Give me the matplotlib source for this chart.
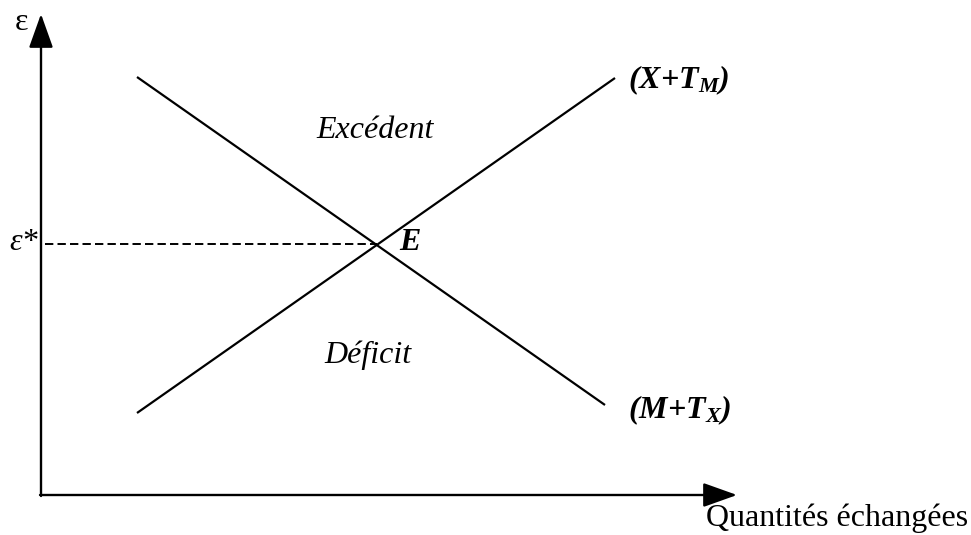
import matplotlib
matplotlib.use("Agg")
import matplotlib.pyplot as plt

plt.rcParams['lines.scale_dashes'] = False
plt.rcParams['font.family'] = ['Liberation Serif', 'DejaVu Serif']
plt.rcParams['mathtext.fontset'] = 'custom'
plt.rcParams['mathtext.it'] = 'Liberation Serif:italic:bold'
plt.rcParams['mathtext.rm'] = 'Liberation Serif'

# Curves (endpoints in diagram units)
supply_x = [137, 615]      # (X+T_M), increasing
supply_y = [413, 78]
demand_x = [137, 605]      # (M+T_X), decreasing
demand_y = [77, 405]
eq_x, eq_y = 377, 244      # equilibrium E
axis_origin = (41, 495)
axis_x_end = 737
axis_y_end = 14

fig = plt.figure(figsize=(9.71, 5.35), dpi=100)
ax = fig.add_axes([0, 0, 1, 1])
ax.set_xlim(0, 971)
ax.set_ylim(535, 0)
ax.axis('off')

arrow_kw = dict(arrowstyle='-|>,head_length=1.4,head_width=0.5', mutation_scale=15,
                lw=1.7, color='black', shrinkA=0, shrinkB=0)
ax.annotate('', xy=(axis_origin[0], axis_y_end), xytext=(axis_origin[0], axis_origin[1] + 1),
            arrowprops=arrow_kw)
ax.annotate('', xy=(axis_x_end, axis_origin[1]), xytext=(axis_origin[0] - 1, axis_origin[1]),
            arrowprops=arrow_kw)

ax.plot(supply_x, supply_y, color='black', lw=1.6, solid_capstyle='butt')
ax.plot(demand_x, demand_y, color='black', lw=1.6, solid_capstyle='butt')
ax.plot([axis_origin[0] + 4, eq_x], [eq_y, eq_y], color='black', lw=1.4, dashes=(6, 3))

fs = 23
ax.text(22, 22, 'ε', fontsize=fs, ha='center', va='center')
ax.text(38, 243, 'ε*', fontsize=fs, style='italic', ha='right', va='center')
ax.text(399, 242, 'E', fontsize=fs, style='italic', weight='bold', ha='left', va='center')
ax.text(375, 130, 'Excédent', fontsize=fs, style='italic', ha='center', va='center')
ax.text(368, 355, 'Déficit', fontsize=fs, style='italic', ha='center', va='center')
ax.text(628, 80, r'(X+T$_{\mathit{M}}$)', fontsize=fs, style='italic', weight='bold',
        ha='left', va='center')
ax.text(628, 410, r'(M+T$_{\mathit{X}}$)', fontsize=fs, style='italic', weight='bold',
        ha='left', va='center')
ax.text(968, 518, 'Quantités échangées', fontsize=fs, ha='right', va='center')

fig.savefig('out.png', dpi=100)
